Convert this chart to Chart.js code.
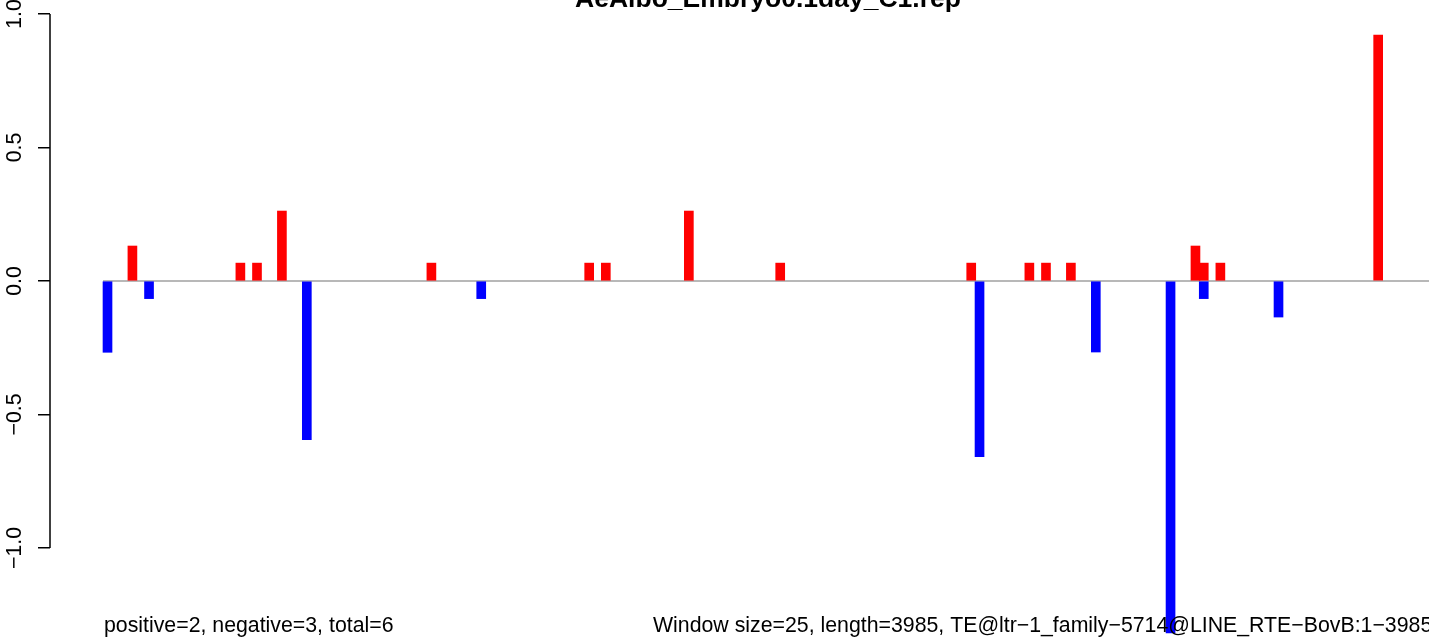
<!DOCTYPE html>
<html>
<head>
<meta charset="utf-8">
<script src="https://cdn.jsdelivr.net/npm/chart.js@4/dist/chart.umd.min.js"></script>
<style>
  html, body { margin: 0; padding: 0; background: #fff; }
  #wrap { width: 1429px; height: 639px; position: relative; }
</style>
</head>
<body>
<div id="wrap"><canvas id="coverageChart"></canvas></div>
<script>
// window index (1..160) and signed value per window
const posBins = [4, 17, 19, 22, 40, 59, 61, 71, 82, 105, 112, 114, 117, 132, 133, 135, 154];
const posVals = [0.131, 0.067, 0.067, 0.262, 0.067, 0.067, 0.067, 0.262, 0.067, 0.067, 0.067, 0.067, 0.067, 0.131, 0.067, 0.067, 0.921];
const negBins = [1, 6, 25, 46, 106, 120, 129, 133, 142];
const negVals = [-0.267, -0.066, -0.594, -0.066, -0.658, -0.266, -1.318, -0.066, -0.135];

const yTicks = [-1.0, -0.5, 0.0, 0.5, 1.0];
const yTickLabels = ['\u22121.0', '\u22120.5', '0.0', '0.5', '1.0'];

const titleText = 'AeAlbo_Embryo0.1day_C1.rep';
const leftNote = 'positive=2, negative=3, total=6';
const rightNote = 'Window size=25, length=3985, TE@ltr\u22121_family\u22125714@LINE_RTE\u2212BovB:1\u22123985';

const fontFamily = "'Liberation Sans', Arial, Helvetica, sans-serif";
const barWidth = 9;

function toPoints(xs, ys) {
    return xs.map((x, i) => ({ x: x, y: ys[i] }));
}

// R-style extras: zero line, short y axis line, rotated tick labels, title and notes
const rDecor = {
    id: 'rDecor',
    beforeDatasetsDraw(chart) {
        const { ctx, chartArea, scales } = chart;
        const y0 = scales.y.getPixelForValue(0);
        const xStart = scales.x.getPixelForValue(Math.min(posBins[0], negBins[0])) - barWidth / 2;
        ctx.save();
        ctx.strokeStyle = '#a0a0a0';
        ctx.lineWidth = 1.6;
        ctx.beginPath();
        ctx.moveTo(xStart, y0);
        ctx.lineTo(chartArea.right, y0);
        ctx.stroke();
        ctx.restore();
    },
    afterDraw(chart) {
        const { ctx, chartArea, scales } = chart;
        const y = scales.y;
        ctx.save();
        ctx.strokeStyle = '#000';
        ctx.lineWidth = 1.5;
        ctx.beginPath();
        ctx.moveTo(chartArea.left, y.getPixelForValue(yTicks[0]));
        ctx.lineTo(chartArea.left, y.getPixelForValue(yTicks[yTicks.length - 1]));
        ctx.stroke();

        ctx.fillStyle = '#000';
        ctx.font = '21.3px ' + fontFamily;
        ctx.textAlign = 'center';
        ctx.textBaseline = 'alphabetic';
        yTicks.forEach((v, i) => {
            ctx.save();
            ctx.translate(21, y.getPixelForValue(v));
            ctx.rotate(-Math.PI / 2);
            ctx.fillText(yTickLabels[i], 0, 0);
            ctx.restore();
        });

        ctx.font = 'bold 26.5px ' + fontFamily;
        ctx.fillText(titleText, 768, 7);

        ctx.font = '21.3px ' + fontFamily;
        ctx.textAlign = 'left';
        ctx.fillText(leftNote, 104, 632);
        ctx.fillText(rightNote, 653, 632);
        ctx.restore();
    }
};

const ctx = document.getElementById('coverageChart').getContext('2d');

const chart = new Chart(ctx, {
    type: 'bar',
    data: {
        datasets: [
            {
                label: 'positive',
                data: toPoints(posBins, posVals),
                backgroundColor: '#ff0000',
                borderWidth: 0,
                barThickness: barWidth,
                grouped: false
            },
            {
                label: 'negative',
                data: toPoints(negBins, negVals),
                backgroundColor: '#0000ff',
                borderWidth: 0,
                barThickness: barWidth,
                grouped: false
            }
        ]
    },
    options: {
        responsive: true,
        maintainAspectRatio: false,
        animation: false,
        layout: { padding: { left: 38, right: 0, top: 0, bottom: 0 } },
        plugins: {
            legend: { display: false },
            title: { display: false },
            tooltip: { enabled: false }
        },
        scales: {
            x: {
                type: 'linear',
                display: false,
                min: -5.924,
                max: 160.12,
                offset: false
            },
            y: {
                type: 'linear',
                min: -1.3408,
                max: 1.0524,
                afterBuildTicks: (scale) => {
                    scale.ticks = yTicks.map(v => ({ value: v }));
                },
                ticks: { display: false },
                border: { display: false },
                grid: {
                    drawOnChartArea: false,
                    drawTicks: true,
                    tickLength: 12,
                    color: '#000',
                    lineWidth: 1.5
                }
            }
        }
    },
    plugins: [rDecor]
});
</script>
</body>
</html>
